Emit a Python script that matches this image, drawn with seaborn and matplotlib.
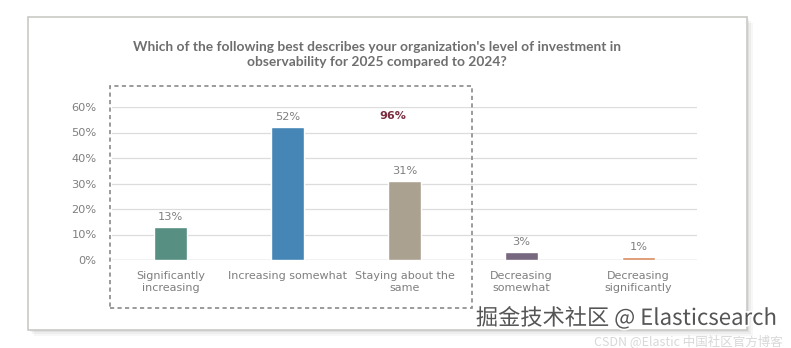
import matplotlib
matplotlib.use("Agg")
import matplotlib.pyplot as plt
import matplotlib.patches as mpatches
import matplotlib.patheffects as pe
import seaborn as sns
import pandas as pd

categories = ["Significantly\nincreasing", "Increasing somewhat", "Staying about the\nsame",
              "Decreasing\nsomewhat", "Decreasing\nsignificantly"]
values = [13, 52, 31, 3, 1]
value_labels = ["13%", "52%", "31%", "3%", "1%"]
colors = ["#578f82", "#4686b6", "#aba191", "#77677f", "#d98a5c"]
y_ticks = [0, 10, 20, 30, 40, 50, 60]
y_tick_labels = ["0%", "10%", "20%", "30%", "40%", "50%", "60%"]
highlight_label = "96%"
title = ("Which of the following best describes your organization's level of investment in\n"
         "observability for 2025 compared to 2024?")

sns.set_theme(style="white")
plt.rcParams['font.family'] = ['DejaVu Sans']

W, H = 791, 348
fig = plt.figure(figsize=(W / 100, H / 100), dpi=100)
fig.patch.set_facecolor("white")

def fx(px):
    return px / W

def fy(py):
    return 1 - py / H

# card with shadow
for i, a in enumerate([0.05, 0.04, 0.03]):
    off = 2 + i * 2
    fig.patches.append(mpatches.Rectangle((fx(28 + off), fy(330 + off)), fx(719), (330 - 17) / H,
                                          transform=fig.transFigure, facecolor="#000000", alpha=a,
                                          edgecolor="none", zorder=0))
fig.patches.append(mpatches.Rectangle((fx(28), fy(330)), fx(719), (330 - 17) / H,
                                      transform=fig.transFigure, facecolor="white",
                                      edgecolor="#c9c9c6", linewidth=1.2, zorder=1))

ax = fig.add_axes([fx(112), fy(260), fx(697 - 112), (260 - 107) / H])
ax.set_facecolor("none")
ax.set_zorder(3)

df = pd.DataFrame({"cat": categories, "val": values})
sns.barplot(data=df, x="cat", y="val", hue="cat", palette=colors, legend=False,
            width=0.29, ax=ax, saturation=1, zorder=3)

ax.set_ylim(0, 60)
ax.set_xlim(-0.5, 4.5)
ax.set_yticks(y_ticks)
ax.set_yticklabels(y_tick_labels, color="#7f7f7f", fontsize=8.2)
ax.yaxis.grid(True, color="#dcdcdc", linewidth=0.9, zorder=0)
ax.set_axisbelow(True)
ax.tick_params(axis="y", length=0, pad=11)
ax.tick_params(axis="x", length=0, pad=8)
for lbl in ax.get_xticklabels():
    lbl.set_color("#7f7f7f")
    lbl.set_fontsize(8)
    lbl.set_linespacing(1.2)
    lbl.set_family("DejaVu Sans")
ax.set_xlabel("")
ax.set_ylabel("")
for s in ax.spines.values():
    s.set_visible(False)
ax.axhline(0, color="#d4d4d4", linewidth=1.0, zorder=1)

for i, (v, t) in enumerate(zip(values, value_labels)):
    ax.text(i, v + 2, t, ha="center", va="bottom", fontsize=8.2, color="#7f7f7f")

ax.text(2 - 0.1, 56.5, highlight_label, ha="center", va="center", fontsize=8,
        fontweight="bold", color="#7a2e40")

fig.text(fx(377), fy(54.5), title, ha="center", va="center", fontsize=9.9,
         fontweight="bold", color="#6e6e6e", linespacing=1.22, zorder=5,
         family=["Lato", "DejaVu Sans"])

# dashed highlight box
fig.patches.append(mpatches.Rectangle((fx(110), fy(308)), fx(472 - 110), (308 - 86) / H,
                                      transform=fig.transFigure, facecolor="none",
                                      edgecolor="#8a8a8a", linewidth=1.2,
                                      linestyle=(0, (2.5, 2)), zorder=4))

# watermark
fig.text(fx(777), fy(318), "掘金技术社区 @ Elasticsearch", ha="right", va="center",
         fontsize=16, color="#555555", family=['Noto Sans CJK SC', 'DejaVu Sans'], zorder=6,
         path_effects=[pe.withStroke(linewidth=2.5, foreground="white")])
fig.text(fx(783), fy(341), "CSDN @Elastic 中国社区官方博客", ha="right", va="center",
         fontsize=9, color="#d8d8d8", family=['Noto Sans CJK SC', 'DejaVu Sans'], zorder=6)

fig.savefig("out.png", dpi=100, facecolor="white")
